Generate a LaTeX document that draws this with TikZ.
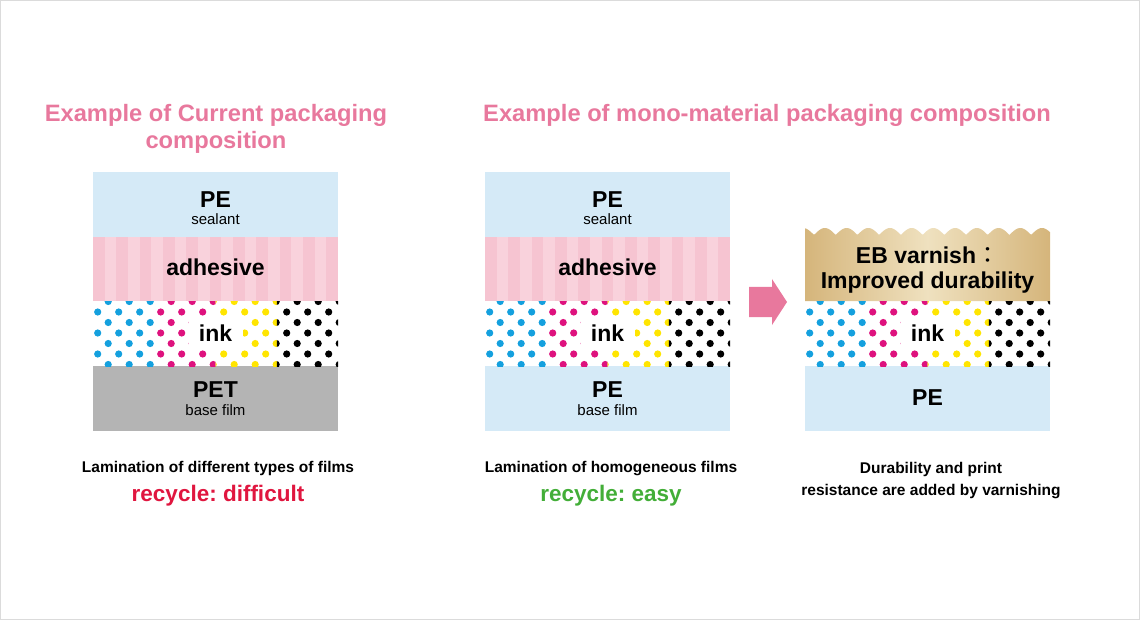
\documentclass[tikz,border=0pt]{standalone}
\usepackage{fontspec}
\setmainfont{Liberation Sans}
\newfontfamily\cjkfont{Noto Sans CJK JP}
\usetikzlibrary{positioning}
\frenchspacing
\definecolor{film}{HTML}{D5EAF7}
\definecolor{glue}{HTML}{F6C4D1}
\definecolor{gluelt}{HTML}{F9D2DC}
\definecolor{petgray}{HTML}{B4B4B4}
\definecolor{inkc}{HTML}{14A0DE}
\definecolor{inkm}{HTML}{DE127E}
\definecolor{inky}{HTML}{FFE500}
\definecolor{inkk}{HTML}{000000}
\definecolor{gold}{HTML}{D5B57B}
\definecolor{goldlt}{HTML}{EFE1BF}
\definecolor{rose}{HTML}{E8789D}
\definecolor{hard}{HTML}{E0163F}
\definecolor{easy}{HTML}{43AE38}

\begin{document}
\begin{tikzpicture}[x=1pt,y=-1pt,
  big/.style={font=\bfseries\fontsize{23}{27}\selectfont,inner sep=0pt},
  small/.style={font=\fontsize{15}{18}\selectfont,inner sep=0pt},
  note/.style={font=\bfseries\fontsize{15.5}{21.7}\selectfont,inner sep=0pt,align=center},
  title/.style={big,font=\bfseries\fontsize{23.7}{27}\selectfont,text=rose,align=center},
  verdict/.style={big,font=\bfseries\fontsize{22.5}{27}\selectfont},
  inklabel/.style={big,fill=white,minimum width=54pt,minimum height=31pt}]
  \useasboundingbox (0,0) rectangle (1140,620);
  \draw[black!14] (0.5,0.5) rectangle (1139.5,619.5);
  % film layers
  \fill[film] (93,172) rectangle (338,237);
  \fill[glue] (93,237) rectangle (338,301);
  \fill[petgray] (93,366) rectangle (338,431);
  \fill[film] (485,172) rectangle (730,237);
  \fill[glue] (485,237) rectangle (730,301);
  \fill[film] (485,366) rectangle (730,431);
  \fill[film] (805,366) rectangle (1050,431);
  \foreach \sx in {93,485}
    \foreach \k in {0,...,9} \fill[gluelt] ({\sx+11.67*(2*\k+1)},237) rectangle ++(11.67,64);
  % varnish with wavy top
  \shade[left color=gold,right color=gold,middle color=goldlt]
    (805,301) -- plot[domain=805:1050,samples=200] (\x,{235-7*abs(sin(8.29*(\x-814)))}) -- (1050,301) -- cycle;
  % halftone ink
  \foreach \sx in {93,485,805}
   \foreach \col [count=\q from 0] in {inkc,inkm,inky,inkk}{
    \begin{scope}
      \clip ({\sx+61.25*\q},301) rectangle ++(61.25,65);
      \foreach \j in {0,...,6}
        \foreach \i in {0,...,11}
          \fill[\col] ({\sx+4.7+10.5*mod(\j+1,2)+21*\i},{301.5+10.5*\j}) circle (3.6pt);
    \end{scope}}
  % arrow
  \fill[rose] (749,287) -- (772,287) -- (772,279) -- (787,302) -- (772,325) -- (772,317) -- (749,317) -- cycle;
  % titles
  \node[title,anchor=north] (titleA) at (216,104.5) {Example of Current packaging\\composition};
  \node[title,anchor=north] (titleB) at (767,104.5) {Example of mono-material packaging composition};
  % current packaging
  \node[big,anchor=base] (peA) at (215.5,208) {PE};
  \node[small,anchor=base] (sealA) at (215.5,225) {sealant};
  \node[big,anchor=base] (glueA) at (215.5,275.5) {adhesive};
  \node[inklabel] (inkA) at (215.5,333) {ink};
  \node[big,anchor=base] (petA) at (215.5,397) {PET};
  \node[small,anchor=base] (baseA) at (215.5,415) {base film};
  % mono-material
  \node[big,anchor=base] (peB) at (607.5,208) {PE};
  \node[small,anchor=base] (sealB) at (607.5,225) {sealant};
  \node[big,anchor=base] (glueB) at (607.5,275.5) {adhesive};
  \node[inklabel] (inkB) at (607.5,333) {ink};
  \node[big,anchor=base] (peB2) at (607.5,397) {PE};
  \node[small,anchor=base] (baseB) at (607.5,415) {base film};
  % varnished
  \node[big,align=center,anchor=north,font=\bfseries\fontsize{23}{24.5}\selectfont] (ebC) at (927.5,247) {EB varnish{\cjkfont\mdseries\smash{：}}\\Improved durability};
  \node[inklabel] (inkC) at (927.5,333) {ink};
  \node[big,anchor=base] (peC) at (927.5,405.5) {PE};
  % captions
  \node[note,anchor=base] (capA) at (218,472.7) {Lamination of different types of films};
  \node[verdict,text=hard,anchor=base] (recA) at (218,501.5) {recycle: difficult};
  \node[note,anchor=base] (capB) at (611,472.7) {Lamination of homogeneous films};
  \node[verdict,text=easy,anchor=base] (recB) at (611,501.5) {recycle: easy};
  \node[note,anchor=north] (capC) at (931,462) {Durability and print\\resistance are added by varnishing};
\end{tikzpicture}
\end{document}
